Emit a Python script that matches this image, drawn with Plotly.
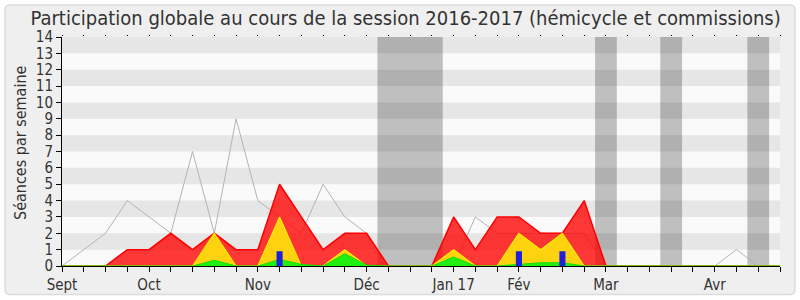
import plotly.graph_objects as go

# ---- data (weekly values, week index 0..33) ----
weeks = list(range(34))
presence = [0, 0, 0, 1, 1, 2, 1, 2, 1, 1, 5, 3, 1, 2, 2, 0, 0, 0, 3, 1, 3, 3, 2, 2, 4, 0,
            0, 0, 0, 0, 0, 0, 0, 0]
participation = [0, 0, 0, 0, 0, 0, 0, 2, 0, 0, 3, 0, 0, 1, 0, 0, 0, 0, 1, 0, 0, 2, 1, 2, 0, 0,
                 0, 0, 0, 0, 0, 0, 0, 0]
interventions = [0, 0, 0, 0, 0, 0, 0, 0.35, 0, 0, 0.4, 0.1, 0, 0.75, 0.05, 0, 0, 0, 0.55, 0, 0,
                 0.1, 0.2, 0.2, 0, 0, 0, 0, 0, 0, 0, 0, 0, 0]
mediane = [0, 1, 2, 4, 3, 2, 7, 2, 9, 4, 3, 2, 5, 3, 2, 0, 0, 0, 0, 3, 2, 2, 2, 2, 2, 0,
           0, 0, 0, 0, 0, 1, 0, 0]
question_weeks = [10, 21, 23]
question_values = [0.9, 0.9, 0.9]
vacances = [(14.5, 17.5), (24.5, 25.5), (27.5, 28.5), (31.5, 32.5)]
month_weeks = [0, 4, 9, 14, 18, 21, 25, 30]
month_labels = ["Sept", "Oct", "Nov", "Déc", "Jan 17", "Fév", "Mar", "Avr"]

FONT = "DejaVu Sans Condensed, DejaVu Sans, sans-serif"

fig = go.Figure()

fig.add_trace(go.Scatter(x=weeks, y=mediane, mode="lines",
                         line=dict(color="#b4b4b4", width=1), hoverinfo="skip"))
fig.add_trace(go.Scatter(x=weeks, y=presence, mode="lines", fill="tozeroy",
                         fillcolor="rgba(255,0,0,0.78)",
                         line=dict(color="#ff0000", width=1.5), hoverinfo="skip"))
fig.add_trace(go.Scatter(x=weeks, y=participation, mode="lines", fill="tozeroy",
                         fillcolor="#ffd20f",
                         line=dict(color="#ffee00", width=1.2), hoverinfo="skip"))
fig.add_trace(go.Scatter(x=weeks, y=interventions, mode="lines", fill="tozeroy",
                         fillcolor="#22ee11",
                         line=dict(color="#11dd00", width=1), hoverinfo="skip"))

bw = 0.14
bx, by = [], []
for w, h in zip(question_weeks, question_values):
    bx += [w - bw, w - bw, w + bw, w + bw, w - bw, None]
    by += [0, h, h, 0, 0, None]
fig.add_trace(go.Scatter(x=bx, y=by, mode="lines", fill="toself",
                         fillcolor="#1f1fdd", line=dict(width=0, color="#1f1fdd"),
                         hoverinfo="skip"))

# dummy trace on top axis for small top tick marks
fig.add_trace(go.Scatter(x=[0, 33], y=[0, 0], xaxis="x2", mode="lines",
                         line=dict(width=0), opacity=0, hoverinfo="skip"))

# rounded outer frame (pixel -> paper coords)
L, R, T, B = 62, 780, 37, 266
def px(x):
    return (x - L) / (R - L)
def py(y):
    return (B - y) / (B - T)
x0, x1, y0, y1, r = 5, 795, 5, 294.5, 5
path = (f"M {px(x0 + r)} {py(y0)} L {px(x1 - r)} {py(y0)} Q {px(x1)} {py(y0)} {px(x1)} {py(y0 + r)} "
        f"L {px(x1)} {py(y1 - r)} Q {px(x1)} {py(y1)} {px(x1 - r)} {py(y1)} "
        f"L {px(x0 + r)} {py(y1)} Q {px(x0)} {py(y1)} {px(x0)} {py(y1 - r)} "
        f"L {px(x0)} {py(y0 + r)} Q {px(x0)} {py(y0)} {px(x0 + r)} {py(y0)} Z")

shapes = [dict(type="path", xref="paper", yref="paper", path=path,
               fillcolor="#efefef", line=dict(color="#dcdcdc", width=1.5), layer="below"),
          dict(type="rect", xref="paper", yref="paper", x0=0, x1=1, y0=0, y1=1,
               fillcolor="#fafafa", line=dict(width=0), layer="below")]
for a, b in vacances:
    shapes.append(dict(type="rect", xref="x", yref="y", x0=a, x1=b, y0=0, y1=14,
                       fillcolor="rgba(0,0,0,0.236)", line=dict(width=0), layer="below"))
for k in range(7):
    shapes.append(dict(type="rect", xref="x", yref="y", x0=0, x1=33, y0=2 * k + 1, y1=2 * k + 2,
                       fillcolor="rgba(0,0,0,0.08)", line=dict(width=0), layer="below"))

tickvals = weeks
ticktext = [month_labels[month_weeks.index(w)] if w in month_weeks else "" for w in weeks]

fig.update_layout(
    width=800, height=300,
    margin=dict(l=L, r=800 - R, t=T, b=300 - B),
    paper_bgcolor="white",
    plot_bgcolor="#fafafa",
    showlegend=False,
    shapes=shapes,
    title=dict(text="Participation globale au cours de la session 2016-2017 (hémicycle et commissions)",
               x=0.507, xref="container", xanchor="center",
               y=1 - 18 / 300, yref="container", yanchor="middle",
               font=dict(family=FONT, size=20, color="#333333")),
    xaxis=dict(range=[0, 33], tickmode="array", tickvals=tickvals, ticktext=ticktext,
               ticks="outside", ticklen=5, tickcolor="black", showgrid=False, zeroline=False,
               showline=True, linecolor="black", linewidth=1, automargin=False,
               tickfont=dict(family=FONT, size=15, color="#333333"), fixedrange=True),
    xaxis2=dict(range=[0, 33], overlaying="x", side="top", tickmode="array", tickvals=tickvals,
                showticklabels=False, ticks="outside", ticklen=1, tickcolor="black",
                showgrid=False, zeroline=False, showline=False, automargin=False),
    yaxis=dict(range=[0, 14], tickmode="linear", tick0=0, dtick=1,
               ticks="outside", ticklen=5, tickcolor="black", showgrid=False, zeroline=False,
               showline=True, linecolor="black", linewidth=1, automargin=False,
               tickfont=dict(family=FONT, size=15, color="#333333"), fixedrange=True),
    annotations=[dict(text="Séances par semaine", xref="paper", yref="paper",
                      x=px(20), y=py(143), textangle=-90, showarrow=False,
                      xanchor="center", yanchor="middle",
                      font=dict(family=FONT, size=16, color="#333333"))],
)

fig.write_html("out.html")
